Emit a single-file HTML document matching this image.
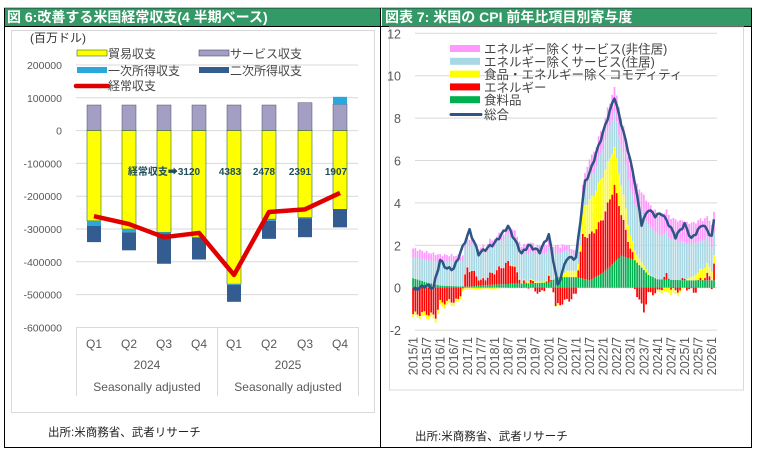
<!DOCTYPE html>
<html><head><meta charset="utf-8">
<style>
html,body{margin:0;padding:0;background:#fff;width:758px;height:455px;overflow:hidden;}
svg{position:absolute;left:0;top:0;}
text{font-family:"Liberation Sans","Noto Sans CJK JP",sans-serif;}
</style></head><body>
<svg id="s" width="758" height="455" viewBox="0 0 758 455" xmlns="http://www.w3.org/2000/svg">
<rect x="0" y="0" width="758" height="455" fill="#fff"/>
<rect x="4" y="8" width="376" height="18" fill="#339966"/>
<rect x="382" y="8" width="370" height="18" fill="#339966"/>
<line x1="4" y1="26.5" x2="752" y2="26.5" stroke="#000" stroke-width="1"/>
<line x1="4" y1="8" x2="752" y2="8" stroke="#000" stroke-width="0.5"/>
<line x1="4.5" y1="8" x2="4.5" y2="448" stroke="#000"/>
<line x1="380.5" y1="8" x2="380.5" y2="448" stroke="#000"/>
<line x1="751.5" y1="8" x2="751.5" y2="448" stroke="#000"/>
<line x1="4" y1="447.5" x2="752" y2="447.5" stroke="#000"/>
<text x="7" y="22" font-size="14" font-weight="bold" fill="#fff">図 6:改善する米国経常収支(4 半期ベース)</text>
<text x="385" y="22" font-size="14" font-weight="bold" fill="#fff">図表 7: 米国の CPI 前年比項目別寄与度</text>
<g id="left"></g>
<g id="right"></g>
<text x="48" y="436" font-size="11.5" fill="#222">出所:米商務省、武者リサーチ</text>
<text x="415" y="440" font-size="11.5" fill="#222">出所:米商務省、武者リサーチ</text>
</svg>
<script>
var NS="http://www.w3.org/2000/svg";
function el(p,t,a,txt){var e=document.createElementNS(NS,t);for(var k in a)e.setAttribute(k,a[k]);if(txt!=null)e.textContent=txt;p.appendChild(e);return e;}
var L=document.getElementById('left');
el(L,'rect',{x:11.5,y:30.5,width:363,height:382,fill:'none',stroke:'#d9d9d9'});
el(L,'text',{x:30,y:42,'font-size':12,fill:'#333'},'(百万ドル)');
function ly(v){return 130.6-v/100000*32.8;}
for(var v=200000;v>=-600000;v-=100000){
  var y=ly(v);
  if(v>-600000) el(L,'line',{x1:76,x2:358,y1:y,y2:y,stroke:'#d9d9d9','stroke-width':1});
  el(L,'text',{x:62,y:y+4,'font-size':10.5,fill:'#595959','text-anchor':'end'},String(v));
}
var bars=[
 {s:78000,p:[-275000,-290000],t:-275000,b:-340000},
 {s:78000,p:[-300000,-310000],t:-300000,b:-365000},
 {s:78000,p:[-310000,-313000],t:-310000,b:-406000},
 {s:78000,p:[-325000,-327000],t:-325000,b:-393000},
 {s:78000,p:[-468000,-470000],t:-468000,b:-522000},
 {s:78000,p:[-270000,-275000],t:-270000,b:-330000},
 {s:85000,p:[-265000,-267000],t:-265000,b:-325000},
 {s:80000,p:[80000,103000],t:-240000,b:-295000}];
var line=[-261000,-285000,-325000,-312000,-440000,-248000,-240000,-190000];
var cx=[94,129,164,199,234,269,305,340];
bars.forEach(function(b,i){
  var x=cx[i]-7,w=14;
  el(L,'rect',{x:x,y:ly(b.s),width:w,height:ly(0)-ly(b.s),fill:'#a39ec4',stroke:'#4d4d6e','stroke-width':0.5});
  el(L,'rect',{x:x,y:ly(0),width:w,height:ly(b.t)-ly(0),fill:'#ffff00',stroke:'#3c6e2a','stroke-width':0.6});
  var p0=Math.max(b.p[0],b.p[1]),p1=Math.min(b.p[0],b.p[1]);
  el(L,'rect',{x:x,y:ly(p0),width:w,height:ly(p1)-ly(p0),fill:'#2aa7dc'});
  var st=(b.p[0]>0)?b.t:p1;
  el(L,'rect',{x:x,y:ly(st),width:w,height:ly(b.b)-ly(st),fill:'#335c91'});
});
el(L,'polyline',{points:cx.map(function(x,i){return x+','+ly(line[i]);}).join(' '),fill:'none',stroke:'#e00000','stroke-width':4.5,'stroke-linejoin':'round'});
var lab=[[164,'経常収支➡3120'],[230,'4383'],[264,'2478'],[300,'2391'],[336,'1907']];
lab.forEach(function(a){el(L,'text',{x:a[0],y:175,'font-size':10,'font-weight':'bold',fill:'#1f4e5a','text-anchor':'middle'},a[1]);});
el(L,'rect',{x:77,y:50,width:30,height:6,fill:'#ffff00',stroke:'#3c6e2a','stroke-width':0.6});
el(L,'text',{x:108,y:58,'font-size':12,fill:'#444'},'貿易収支');
el(L,'rect',{x:199,y:50,width:30,height:6,fill:'#a39ec4',stroke:'#4d4d6e','stroke-width':0.6});
el(L,'text',{x:230,y:58,'font-size':12,fill:'#444'},'サービス収支');
el(L,'rect',{x:77,y:67,width:30,height:6,fill:'#2aa7dc'});
el(L,'text',{x:108,y:75,'font-size':12,fill:'#444'},'一次所得収支');
el(L,'rect',{x:199,y:67,width:30,height:6,fill:'#335c91'});
el(L,'text',{x:230,y:75,'font-size':12,fill:'#444'},'二次所得収支');
el(L,'line',{x1:76,x2:108,y1:86,y2:86,stroke:'#e00000','stroke-width':4.5,'stroke-linecap':'round'});
el(L,'text',{x:108,y:90,'font-size':12,fill:'#444'},'経常収支');
el(L,'path',{d:'M76.5 327.5 H358.5 M76.5 327.5 V396 M217.5 327.5 V396 M358.5 327.5 V396',stroke:'#d9d9d9',fill:'none'});
['Q1','Q2','Q3','Q4','Q1','Q2','Q3','Q4'].forEach(function(q,i){el(L,'text',{x:cx[i],y:348,'font-size':12,fill:'#595959','text-anchor':'middle'},q);});
el(L,'text',{x:147,y:369,'font-size':12,fill:'#595959','text-anchor':'middle'},'2024');
el(L,'text',{x:288,y:369,'font-size':12,fill:'#595959','text-anchor':'middle'},'2025');
el(L,'text',{x:147,y:391,'font-size':12,fill:'#595959','text-anchor':'middle'},'Seasonally adjusted');
el(L,'text',{x:288,y:391,'font-size':12,fill:'#595959','text-anchor':'middle'},'Seasonally adjusted');

var R=document.getElementById('right');
el(R,'rect',{x:389.5,y:27,width:354,height:363,fill:'none',stroke:'#d9d9d9'});
function ry(v){return 287.7-v*21.2;}
for(var v=12;v>=-2;v-=2){var y=ry(v);
  el(R,'line',{x1:415,x2:717,y1:y,y2:y,stroke:'#d9d9d9'});
  el(R,'text',{x:401,y:y+5,'font-size':12.5,fill:'#595959','text-anchor':'end'},String(v));}
function interp(kp,i){for(var k=0;k<kp.length-1;k++){if(i<=kp[k+1][0]){var a=kp[k],b=kp[k+1];return a[1]+(b[1]-a[1])*(i-a[0])/(b[0]-a[0]);}}return kp[kp.length-1][1];}
var food=[[0,0.45],[6,0.25],[12,0.1],[24,0.05],[36,0.15],[48,0.2],[60,0.25],[64,0.5],[72,0.5],[78,0.35],[84,0.7],[92,1.5],[98,1.3],[104,0.6],[108,0.4],[120,0.35],[133,0.35]];
var en=[[0,-1.25],[6,-1.2],[10,-1.35],[12,-0.7],[20,-0.6],[22,0],[24,0.9],[28,0.5],[30,0.2],[36,0.6],[42,1.0],[44,0.9],[47,0.3],[48,0],[52,0.1],[56,-0.3],[60,0.2],[62,-0.1],[63,-0.9],[66,-0.7],[70,-0.5],[72,-0.3],[75,2.0],[80,2.2],[84,2.6],[89,3.6],[92,2.0],[96,0.5],[100,-0.6],[102,-1.1],[104,-0.3],[108,-0.2],[112,0.2],[116,-0.2],[120,0.05],[124,-0.2],[130,0.25],[132,0.05],[133,0.8]];
var cg=[[0,-0.15],[12,-0.2],[24,-0.1],[36,-0.05],[48,0.05],[60,0.05],[64,-0.1],[68,0.3],[72,0.3],[74,0.3],[76,1.5],[84,2.0],[88,1.9],[92,1.4],[96,0.6],[100,0.3],[104,0.1],[108,-0.1],[114,-0.25],[118,-0.1],[124,0.2],[128,0.5],[133,0.4]];
var sh=[[0,1.0],[12,1.1],[24,1.25],[36,1.3],[48,1.3],[60,1.3],[66,1.1],[72,0.7],[84,1.3],[96,2.2],[104,2.3],[112,2.0],[120,1.7],[133,1.1]];
var pk=[[0,0.4],[12,0.35],[24,0.2],[36,0.3],[48,0.4],[60,0.4],[66,0.3],[72,0.2],[78,0.9],[84,1.0],[92,1.3],[96,1.1],[104,1.0],[108,1.0],[120,1.0],[133,1.0]];
var tot=[[0,-0.1],[6,0.1],[9,0.0],[12,1.3],[15,0.9],[18,0.9],[25,2.7],[29,1.6],[36,2.1],[42,2.9],[48,1.6],[51,2.0],[56,1.7],[60,2.5],[64,0.1],[68,1.4],[72,1.4],[76,5.0],[78,5.4],[83,7.0],[89,9.0],[95,6.5],[98,5.0],[101,3.0],[104,3.7],[107,3.4],[110,3.5],[113,3.0],[116,2.4],[120,3.0],[123,2.3],[128,3.0],[132,2.4],[133,3.2]];
var cols=['#00b050','#ff0000','#ffff00','#a8d8e4','#ff99ff'];
var sers=[food,en,cg,sh,pk];
function rx(i){return 413+i*2.263;}
for(var i=0;i<=133;i++){
  var pos=0,neg=0,x=rx(i)-0.8;
  for(var s=0;s<5;s++){var v=interp(sers[s],i)+(s==1?Math.sin(i*1.7)*0.12:0)+(s==4?Math.sin(i*2.3)*0.06:0);
    if(v>=0){el(R,'rect',{x:x,y:ry(pos+v),width:1.7,height:v*21.2,fill:cols[s]});pos+=v;}
    else{el(R,'rect',{x:x,y:ry(neg),width:1.7,height:-v*21.2,fill:cols[s]});neg+=v;}
  }
}
var pts=[];for(var i=0;i<=133;i++){pts.push(rx(i)+','+ry(interp(tot,i)+Math.sin(i*2.1)*0.08));}
el(R,'polyline',{points:pts.join(' '),fill:'none',stroke:'#2f5486','stroke-width':2.5,'stroke-linejoin':'round'});
for(var i=0;i<=132;i+=6){var yr=2015+Math.floor(i/12),m=(i%12==0)?1:7;var x=rx(i)+4.5;
  el(R,'text',{x:0,y:0,'font-size':12.5,fill:'#595959','text-anchor':'end',transform:'translate('+x+',337) rotate(-90)'},yr+'/'+m);}
var lg=[['#ff99ff','エネルギー除くサービス(非住居)'],['#a8d8e4','エネルギー除くサービス(住居)'],['#ffff00','食品・エネルギー除くコモディティ'],['#ff0000','エネルギー'],['#00b050','食料品']];
lg.forEach(function(a,k){var y=45+k*12.8;el(R,'rect',{x:450,y:y,width:30,height:7,fill:a[0]});el(R,'text',{x:484,y:y+8.5,'font-size':12.5,fill:'#444'},a[1]);});
el(R,'line',{x1:451,x2:481,y1:114.5,y2:114.5,stroke:'#2f5486','stroke-width':3,'stroke-linecap':'round'});
el(R,'text',{x:484,y:119,'font-size':12.5,fill:'#444'},'総合');
</script>
</body></html>
